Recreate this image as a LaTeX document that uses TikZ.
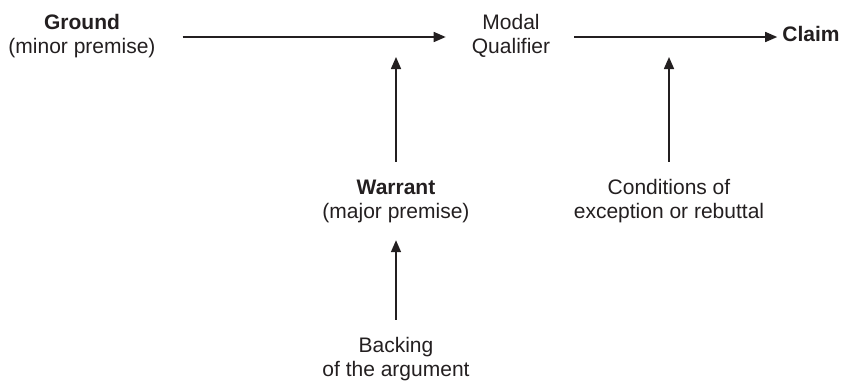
\documentclass[tikz,border=0pt]{standalone}
\usepackage{fontspec}
\setmainfont{Liberation Sans}
\usetikzlibrary{arrows.meta}
\definecolor{ink}{HTML}{231F20}
\tikzset{
  lbl/.style={inner sep=0pt, align=center, text=ink, font=\fontsize{21}{24}\selectfont},
  arr/.style={draw=ink, line width=1.6pt, -{Triangle[length=12pt,width=10pt]}}
}
\begin{document}
\begin{tikzpicture}[x=1pt,y=-1pt]
\useasboundingbox (0,0) rectangle (842,381);
\node[lbl] (ground) at (82,37) {\strut\textbf{Ground}\\\strut(minor premise)};
\node[lbl] (modal) at (511,37) {\strut Modal\\\strut Qualifier};
\node[lbl] (claim) at (811,37) {\strut\textbf{Claim}};
\node[lbl] (warrant) at (396,202) {\strut\textbf{Warrant}\\\strut(major premise)};
\node[lbl] (cond) at (669,202) {\strut Conditions of\\\strut exception or rebuttal};
\node[lbl] (backing) at (396,360) {\strut Backing\\\strut of the argument};
\coordinate (q1) at (396,57);
\coordinate (q2) at (669,57);
\draw[arr, shorten <=27pt, shorten >=26pt] (ground.east) -- (modal.west);
\draw[arr, shorten <=24pt, shorten >=5pt] (modal.east) -- (claim.west);
\draw[arr, shorten <=16pt] (warrant.north) -- (q1);
\draw[arr, shorten <=16pt] (cond.north) -- (q2);
\draw[arr, shorten <=16pt, shorten >=14pt] (backing.north) -- (warrant.south);
\end{tikzpicture}
\end{document}
